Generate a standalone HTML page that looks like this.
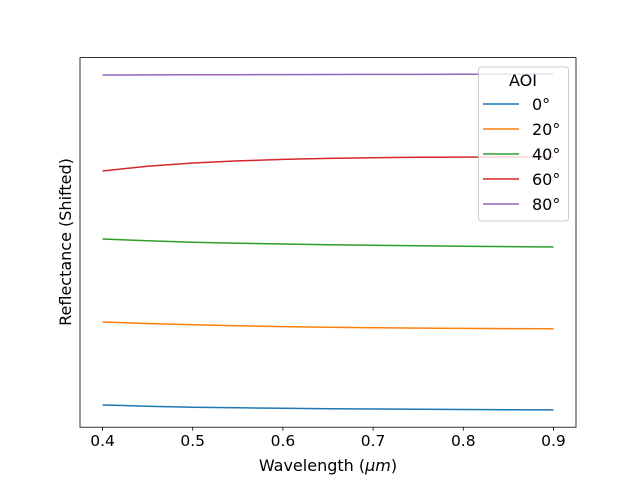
<!DOCTYPE html>
<html><head><meta charset="utf-8"><style>
body{margin:0;background:#fff}
svg text{font-family:"DejaVu Sans","Liberation Sans",sans-serif}
</style></head><body>
<svg id="chart" width="640" height="480" viewBox="0 0 640 480" xmlns="http://www.w3.org/2000/svg">
<rect width="640" height="480" fill="#fff"/>
<g id="plot"></g>
<rect x="80" y="57.6" width="496" height="369.6" fill="none" stroke="#000" stroke-width="0.8"/>
<g id="xticks"></g>
<text x="328" y="471" font-size="16" text-anchor="middle">Wavelength (<tspan font-style="italic">μm</tspan>)</text>
<text transform="translate(71,242) rotate(-90)" font-size="16" text-anchor="middle">Reflectance (Shifted)</text>
<g id="legend"></g>
</svg>
<script>
const wavelengths=[0.4,0.45,0.5,0.55,0.6,0.65,0.7,0.75,0.8,0.85,0.9];
const seriesLabels=["0°","20°","40°","60°","80°"];
const colors=["#1f77b4","#ff7f0e","#2ca02c","#d62728","#9467bd"];
// values in arbitrary shifted units
const s0=[0.222,0.210,0.200,0.194,0.189,0.185,0.182,0.179,0.177,0.175,0.173];
const s20=[1.052,1.037,1.024,1.014,1.006,1.000,0.995,0.991,0.988,0.986,0.984];
const s40=[1.882,1.864,1.850,1.840,1.832,1.825,1.819,1.814,1.810,1.806,1.802];
const s60=[2.562,2.610,2.642,2.663,2.678,2.688,2.695,2.699,2.701,2.702,2.702];
const s80=[3.522,3.523,3.524,3.525,3.526,3.527,3.528,3.528,3.529,3.530,3.532];
const series=[s0,s20,s40,s60,s80];
const xTicks=[0.4,0.5,0.6,0.7,0.8,0.9];
const xMin=0.375,xMax=0.925,yMin=0.0,yMax=3.696;
const L=80,R=576,T=57.6,B=427.2;
const xs=v=>L+(v-xMin)/(xMax-xMin)*(R-L);
const ys=v=>B-(v-yMin)/(yMax-yMin)*(B-T);
const NS="http://www.w3.org/2000/svg";
const plot=document.getElementById('plot');
series.forEach((s,i)=>{
 const p=document.createElementNS(NS,'polyline');
 p.setAttribute('points',s.map((v,j)=>xs(wavelengths[j]).toFixed(1)+','+ys(v).toFixed(1)).join(' '));
 p.setAttribute('fill','none');p.setAttribute('stroke',colors[i]);p.setAttribute('stroke-width','1.5');
 
 
 plot.appendChild(p);
});
const xt=document.getElementById('xticks');
xTicks.forEach(t=>{
 const x=xs(t);
 const l=document.createElementNS(NS,'line');
 l.setAttribute('x1',x);l.setAttribute('x2',x);l.setAttribute('y1',B);l.setAttribute('y2',B+3.5);l.setAttribute('stroke','#000');l.setAttribute('stroke-width','0.8');
 
 
 xt.appendChild(l);
 const tx=document.createElementNS(NS,'text');
 tx.setAttribute('x',x);tx.setAttribute('y',B+19);tx.setAttribute('font-size','15.5');tx.setAttribute('text-anchor','middle');
 tx.textContent=t.toFixed(1);
 
 
 xt.appendChild(tx);
});
const lg=document.getElementById('legend');
const box=document.createElementNS(NS,'rect');
box.setAttribute('x',478.5);box.setAttribute('y',67);box.setAttribute('width',90);box.setAttribute('height',154);box.setAttribute('rx',3);
box.setAttribute('fill','rgba(255,255,255,0.8)');box.setAttribute('stroke','#ccc');box.setAttribute('stroke-width','1');


lg.appendChild(box);
const tt=document.createElementNS(NS,'text');
tt.setAttribute('x',523);tt.setAttribute('y',86);tt.setAttribute('font-size','16');tt.setAttribute('text-anchor','middle');tt.textContent='AOI';


lg.appendChild(tt);
seriesLabels.forEach((lab,i)=>{
 const y=104+i*25;
 const l=document.createElementNS(NS,'line');
 l.setAttribute('x1',483);l.setAttribute('x2',519);l.setAttribute('y1',y);l.setAttribute('y2',y);l.setAttribute('stroke',colors[i]);l.setAttribute('stroke-width','1.5');
 
 
 lg.appendChild(l);
 const t=document.createElementNS(NS,'text');
 t.setAttribute('x',532);t.setAttribute('y',y+6);t.setAttribute('font-size','16');t.textContent=lab;
 
 
 lg.appendChild(t);
});
</script>
</body></html>
